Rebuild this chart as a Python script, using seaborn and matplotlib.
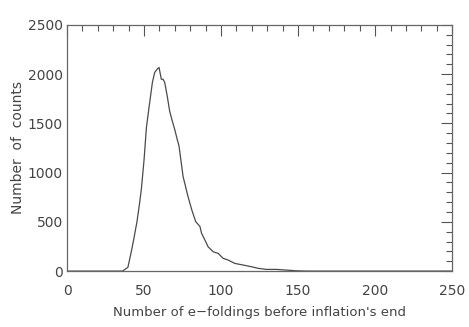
import numpy as np
import pandas as pd
import seaborn as sns
import matplotlib.pyplot as plt
from matplotlib.ticker import MultipleLocator

# number of e-foldings vs counts
efolds = [0, 36, 39.5, 41.7, 43.5, 45.4, 47, 48.2, 50, 51.5, 53.2, 55.4, 56.9,
          58.5, 59.7, 61.2, 62.3, 63.4, 65, 66.6, 68.2, 69.9, 71.3, 72.7, 75.3,
          78.5, 81, 83.5, 86.3, 87.3, 90.5, 91.5, 94.8, 96, 98.1, 101.3, 104.6,
          108.9, 114.4, 119.8, 124.1, 129.5, 136, 142.5, 149, 155.5, 160, 250]
counts = [0, 0, 38, 197, 340, 503, 680, 826, 1132, 1455, 1660, 1915, 2017,
          2050, 2068, 1948, 1948, 1915, 1780, 1625, 1530, 1438, 1350, 1268, 962,
          758, 620, 503, 452, 385, 283, 248, 197, 190, 180, 130, 112,
          78, 61, 44, 28, 17, 17, 10, 3, 0, 0, 0]

df = pd.DataFrame({"efolds": efolds, "counts": counts})

sns.set_style("white")
plt.rcParams["font.family"] = ["DejaVu Sans"]

fig = plt.figure(figsize=(4.69, 3.27), dpi=100)
ax = fig.add_axes([0.143, 0.171, 0.821, 0.753])

sns.lineplot(data=df, x="efolds", y="counts", ax=ax, color="#4a4a4a", linewidth=0.9)

ax.set_xlim(0, 250)
ax.set_ylim(0, 2500)
ax.xaxis.set_major_locator(MultipleLocator(50))
ax.xaxis.set_minor_locator(MultipleLocator(10))
ax.yaxis.set_major_locator(MultipleLocator(500))
ax.yaxis.set_minor_locator(MultipleLocator(100))
ax.tick_params(which="both", direction="in", top=True, right=True,
               color="#555555", width=0.8, labelsize=10, labelcolor="#444444")
ax.tick_params(which="major", length=8)
ax.tick_params(which="minor", length=4)
ax.tick_params(axis="x", which="major", pad=9)
ax.tick_params(axis="y", which="major", pad=3)
for s in ax.spines.values():
    s.set_color("#666666")
    s.set_linewidth(0.9)

ax.set_xlabel("Number of e\u2212foldings before inflation's end", fontsize=9.5,
              color="#444444", labelpad=6)
ax.set_ylabel("Number  of  counts", fontsize=10, color="#444444", labelpad=2)

fig.savefig("out.png", dpi=100)
